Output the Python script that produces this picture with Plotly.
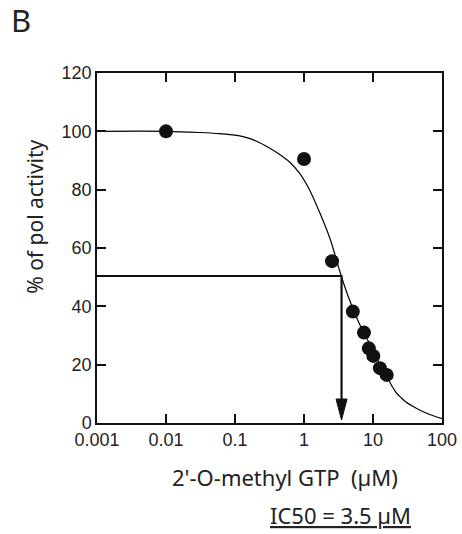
import plotly.graph_objects as go

# measured points
conc = [0.01, 1.0, 2.55, 5.1, 7.4, 8.7, 10.1, 12.6, 15.8]
activity = [100, 90.5, 55.5, 38.2, 31, 25.6, 23, 18.8, 16.5]

# fitted curve
fit_x = [0.001, 0.01, 0.03, 0.06, 0.1, 0.17, 0.32, 0.5, 0.63, 0.87, 1.2, 1.7, 2.4,
         3.4, 4.6, 6.5, 10, 13, 16, 19, 22, 26, 30, 43, 65, 100]
fit_y = [100, 100, 99.6, 99.2, 98.7, 97.4, 94.2, 91.2, 89.3, 85.5, 80, 72, 63,
         51, 42, 33.5, 25, 19.5, 15.8, 12.5, 10.2, 8.5, 7.2, 5, 3, 1.5]

ic50 = 3.5
half = 50.4

x_ticks = [0.001, 0.01, 0.1, 1, 10, 100]
x_labels = ["0.001", "0.01", "0.1", "1", "10", "100"]
y_ticks = [0, 20, 40, 60, 80, 100, 120]

tick_font = dict(family="Liberation Sans, Arial", size=18, color="#222")
title_font = "Noto Sans, Open Sans"

fig = go.Figure()

fig.add_trace(go.Scatter(x=fit_x, y=fit_y, mode="lines",
                         line=dict(color="black", width=1.2, shape="spline", smoothing=0.8),
                         hoverinfo="skip"))
fig.add_trace(go.Scatter(x=[0.001, ic50, ic50], y=[half, half, 6], mode="lines",
                         line=dict(color="#111", width=2.2), hoverinfo="skip"))
fig.add_trace(go.Scatter(x=conc, y=activity, mode="markers",
                         marker=dict(color="#111", size=14)))

# arrow head
fig.add_shape(type="path", xref="x", yref="y", xsizemode="pixel", ysizemode="pixel",
              xanchor=ic50, yanchor=0, path="M -5.5,24 L 5.5,24 L 0,3 Z",
              fillcolor="#111", line=dict(color="#111", width=1))


def label(x, y, text, size, angle=0, line="none"):
    fig.add_annotation(x=x, y=y, xref="paper", yref="paper", text=text,
                       showarrow=False, xanchor="center", yanchor="middle", textangle=angle,
                       font=dict(family=title_font, size=size, color="#222", lineposition=line))


label(-0.220, 1.151, "B", 31)
label(-0.180, 0.589, "% of pol activity", 21, angle=-90)
label(0.545, -0.154, "2'-O-methyl GTP  (µM)", 22)
label(0.707, -0.263, "IC50 = 3.5 µM", 22, line="under")

axis_common = dict(showline=True, linecolor="#111", linewidth=1.5, mirror="ticks",
                   ticks="inside", ticklen=9, tickwidth=1.5, tickcolor="#111",
                   showgrid=False, zeroline=False, tickfont=tick_font, automargin=False)

fig.update_xaxes(type="log", range=[-3, 2], tickvals=x_ticks, ticktext=x_labels, **axis_common)
fig.update_yaxes(range=[0, 120], tickvals=y_ticks, **axis_common)

fig.update_layout(width=462, height=534, showlegend=False,
                  plot_bgcolor="white", paper_bgcolor="white",
                  margin=dict(l=97, r=20, t=73, b=111))

# drop the default 8px body margin so the figure fills the window exactly
fig.write_html("out.html", config={"displayModeBar": False},
               post_script="document.body.style.margin='0';")
